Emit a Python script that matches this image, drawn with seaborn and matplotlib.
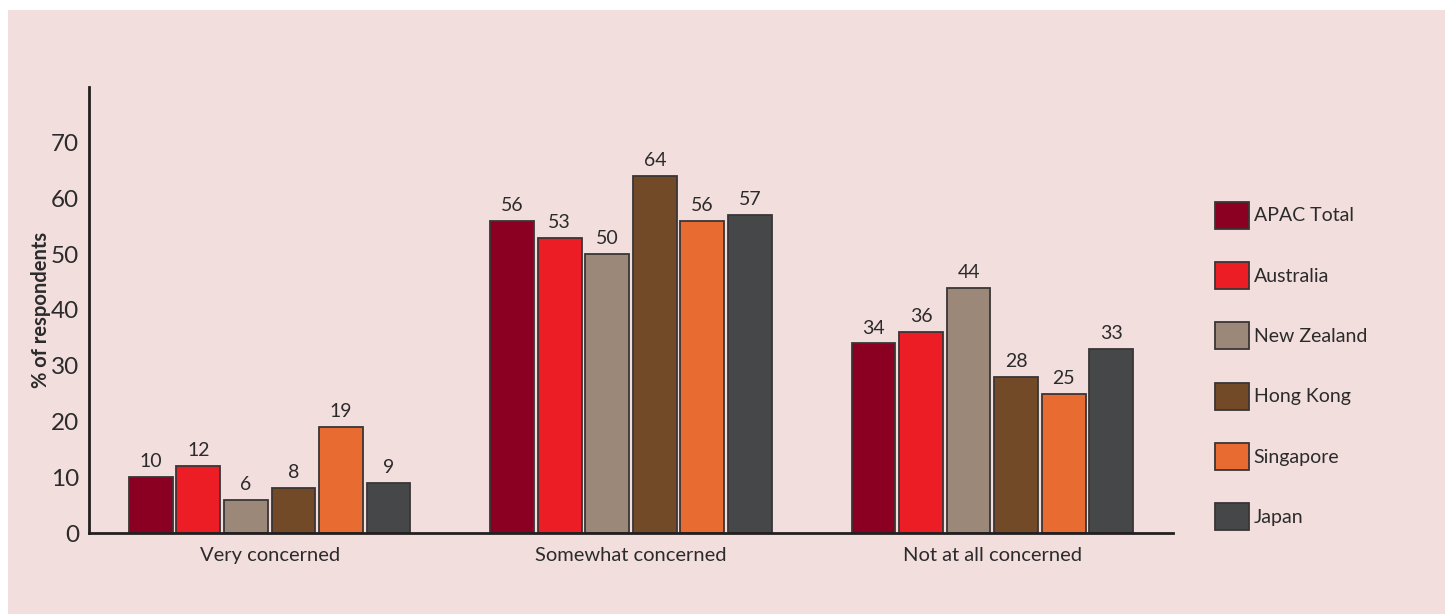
import matplotlib
matplotlib.use("Agg")
import matplotlib.pyplot as plt
import matplotlib.patches as mpatches
import seaborn as sns
import pandas as pd

categories = ["Very concerned", "Somewhat concerned", "Not at all concerned"]
series = ["APAC Total", "Australia", "New Zealand", "Hong Kong", "Singapore", "Japan"]
apac_total = [10, 56, 34]
australia = [12, 53, 36]
new_zealand = [6, 50, 44]
hong_kong = [8, 64, 28]
singapore = [19, 56, 25]
japan = [9, 57, 33]
colors = ["#8B0022", "#EC1D25", "#9C8878", "#734A27", "#E86C32", "#454749"]
yticks = [0, 10, 20, 30, 40, 50, 60, 70]

values = [apac_total, australia, new_zealand, hong_kong, singapore, japan]
rows = []
for s, vals in zip(series, values):
    for c, v in zip(categories, vals):
        rows.append({"category": c, "series": s, "value": v})
df = pd.DataFrame(rows)

sns.set_theme(style="white")
plt.rcParams["font.family"] = ["Lato", "DejaVu Sans"]

bg = "#F2DEDC"
fig = plt.figure(figsize=(14.48, 6.14), dpi=100, facecolor="white")
fig.patches.append(mpatches.Rectangle((8 / 1448, 0), (1445 - 8) / 1448, 1 - 10 / 614,
                                      transform=fig.transFigure, facecolor=bg,
                                      edgecolor="none", zorder=-10))
ax = fig.add_axes([89 / 1448, 1 - 533 / 614, (1173 - 89) / 1448, (533 - 87) / 614])
ax.set_facecolor("none")

sns.barplot(data=df, x="category", y="value", hue="series", order=categories,
            hue_order=series, palette=colors, saturation=1, width=0.79, gap=0.08,
            edgecolor="#3a3536", linewidth=1.3, ax=ax, legend=False)

for cont in ax.containers:
    ax.bar_label(cont, fmt="%d", padding=5, fontsize=14, color="#2b2b2b")

ax.set_xlim(-0.5, 2.5)
ax.set_ylim(0, 80)
ax.set_yticks(yticks)
ax.set_yticklabels([str(t) for t in yticks], fontsize=17.5, color="#2b2b2b")
ax.tick_params(axis="y", length=0, pad=7)
ax.tick_params(axis="x", length=0, pad=10, labelsize=14.5, labelcolor="#2b2b2b")
ax.set_xlabel("")
ax.set_ylabel("% of respondents", fontsize=14.5, fontweight="bold", color="#2b2b2b", labelpad=0)

for side in ["top", "right"]:
    ax.spines[side].set_visible(False)
for side in ["left", "bottom"]:
    ax.spines[side].set_color("#231f20")
    ax.spines[side].set_linewidth(2)

handles = [mpatches.Patch(facecolor=c, edgecolor="#3a3536", linewidth=1.3, label=s)
           for c, s in zip(colors, series)]
leg = fig.legend(handles=handles, loc="center left", bbox_to_anchor=(1207 / 1448, 1 - 366 / 614),
                 frameon=False, fontsize=14, handlelength=1.75, handleheight=1.75,
                 labelspacing=1.72, handletextpad=0.25, borderaxespad=0)
for t in leg.get_texts():
    t.set_color("#2b2b2b")

fig.savefig("out.png", dpi=100, facecolor="white")
